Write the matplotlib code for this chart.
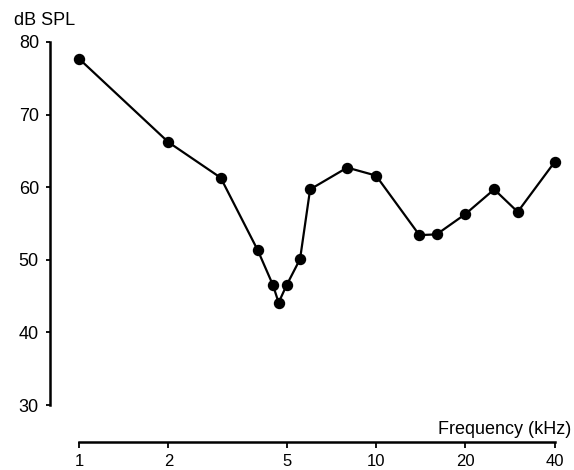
import matplotlib
matplotlib.use("Agg")
import matplotlib.pyplot as plt
from matplotlib.ticker import FixedLocator, NullLocator

freq_khz = [1.0, 2.0, 3.0, 4.0, 4.5, 4.7, 5.0, 5.55, 6.0, 8.0, 10.0, 14.0, 16.0, 20.0, 25.0, 30.0, 40.0]
db_spl = [77.7, 66.2, 61.3, 51.3, 46.5, 44.1, 46.5, 50.1, 59.7, 62.7, 61.6, 53.4, 53.5, 56.3, 59.7, 56.6, 63.5]
x_ticks = [1, 2, 5, 10, 20, 40]
x_tick_labels = ["1", "2", "5", "10", "20", "40"]
y_ticks = [30, 40, 50, 60, 70, 80]

plt.rcParams['font.family'] = ['Liberation Sans', 'DejaVu Sans']

W, H = 574, 470
fig = plt.figure(figsize=(W / 100, H / 100), dpi=100)
left_px, right_px, top_px, bottom_px = 50, 562, 30, 442
ax = fig.add_axes([left_px / W, (H - bottom_px) / H, (right_px - left_px) / W, (bottom_px - top_px) / H])

ax.plot(freq_khz, db_spl, color='black', lw=1.6, marker='o', markersize=7.2, markerfacecolor='black',
        markeredgecolor='black', clip_on=False)

ax.set_xscale('log')
px_per_decade = 297.0
x1_px = 79.0
ax.set_xlim(10 ** ((left_px - x1_px) / px_per_decade), 10 ** ((right_px - x1_px) / px_per_decade))
px_per_db = 7.26
ax.set_ylim(80 - (bottom_px - 42) / px_per_db, 80 + (42 - top_px) / px_per_db)

ax.xaxis.set_major_locator(FixedLocator(x_ticks))
ax.xaxis.set_minor_locator(NullLocator())
ax.set_xticklabels(x_tick_labels)
ax.set_yticks(y_ticks)

for s in ['top', 'right']:
    ax.spines[s].set_visible(False)
ax.spines['left'].set_bounds(30, 80)
ax.spines['bottom'].set_bounds(1, 40)
ax.spines['left'].set_linewidth(1.8)
ax.spines['bottom'].set_linewidth(1.8)

ax.tick_params(axis='y', direction='out', length=3, width=1.3, labelsize=13, pad=5)
ax.tick_params(axis='x', direction='out', length=4, width=1.3, labelsize=12, pad=5)

fig.text(14 / W, 1 - 25 / H, "dB SPL", fontsize=13, ha='left', va='baseline')
fig.text(571 / W, 1 - 434 / H, "Frequency (kHz)", fontsize=13, ha='right', va='baseline')

fig.savefig("out.png", dpi=100)
